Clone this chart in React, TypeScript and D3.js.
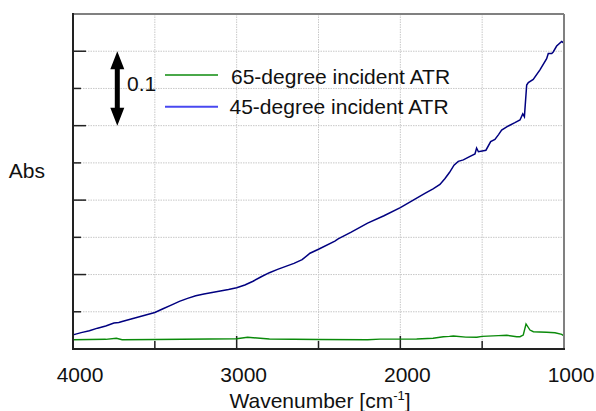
import React from 'react';
import * as d3 from 'd3';

// 45-degree incident ATR (blue)
const wn45 = [4000, 3950, 3900, 3850, 3800, 3750, 3720, 3700, 3650, 3600, 3550, 3500, 3450, 3400, 3350, 3300, 3250, 3200, 3150, 3100, 3050, 3000, 2950, 2900, 2850, 2800, 2750, 2700, 2650, 2600, 2552, 2500, 2400, 2380, 2300, 2200, 2100, 2000, 1921, 1850, 1800, 1758, 1727, 1700, 1672, 1646, 1615, 1580, 1544, 1534, 1523, 1500, 1477, 1448, 1422, 1400, 1381, 1340, 1300, 1269, 1252, 1242, 1228, 1218, 1188, 1147, 1106, 1096, 1075, 1066, 1045, 1014, 1000];
const abs45 = [0.019, 0.022, 0.0245, 0.028, 0.031, 0.035, 0.0355, 0.037, 0.04, 0.043, 0.046, 0.049, 0.054, 0.059, 0.064, 0.068, 0.0716, 0.074, 0.076, 0.078, 0.08, 0.0824, 0.086, 0.091, 0.097, 0.1025, 0.107, 0.111, 0.115, 0.12, 0.1286, 0.134, 0.145, 0.148, 0.157, 0.169, 0.179, 0.19, 0.2, 0.209, 0.215, 0.221, 0.229, 0.237, 0.247, 0.252, 0.254, 0.258, 0.262, 0.27, 0.265, 0.266, 0.267, 0.2785, 0.2816, 0.288, 0.294, 0.2996, 0.304, 0.3076, 0.3157, 0.312, 0.3546, 0.358, 0.362, 0.375, 0.39, 0.397, 0.397, 0.399, 0.407, 0.413, 0.411];

// 65-degree incident ATR (green)
const wn65 = [4000, 3800, 3735, 3700, 3500, 3000, 2933, 2800, 2500, 2200, 2124, 1900, 1800, 1737, 1700, 1676, 1600, 1533, 1500, 1400, 1350, 1289, 1269, 1249, 1232, 1208, 1187, 1150, 1106, 1055, 1014, 1000];
const abs65 = [0.0125, 0.013, 0.0144, 0.0125, 0.0128, 0.0138, 0.0157, 0.0135, 0.0128, 0.0125, 0.0132, 0.0135, 0.0145, 0.0165, 0.017, 0.0175, 0.016, 0.0157, 0.017, 0.018, 0.0184, 0.0165, 0.0165, 0.0188, 0.0336, 0.0255, 0.0232, 0.0228, 0.0224, 0.0219, 0.0197, 0.0175];

const xTickLabels = [4000, 3000, 2000, 1000];
const legendLabels = ['65-degree incident ATR', '45-degree incident ATR'];

const W = 596;
const H = 411;
const font = 'Liberation Sans, Arial, sans-serif';

export default function App() {
  const left = 73, right = 564, top = 14, bottom = 349;
  const x = d3.scaleLinear().domain([4000, 1000]).range([left, right]);
  const y = d3.scaleLinear().domain([0, 0.45]).range([bottom, top]);

  const line = d3.line<[number, number]>().x(d => x(d[0])).y(d => y(d[1]));
  const blue = line(wn45.map((w, i) => [w, abs45[i]]));
  const green = line(wn65.map((w, i) => [w, abs65[i]]));

  const vGrid = d3.range(3500, 1000, -500);
  const hGrid = d3.range(1, 9).map(i => i * 0.05);

  const ax = 117.3;
  const aTop = y(0.4), aBot = y(0.3);
  const arrow = `M${ax},${aTop} L${ax + 7},${aTop + 18} L${ax + 2.5},${aTop + 18} L${ax + 2.5},${aBot - 18} L${ax + 7},${aBot - 18} L${ax},${aBot} L${ax - 7},${aBot - 18} L${ax - 2.5},${aBot - 18} L${ax - 2.5},${aTop + 18} L${ax - 7},${aTop + 18} Z`;

  return (
    <svg width={W} height={H} style={{ position: 'absolute', left: 0, top: 0, background: '#fff' }} fontFamily={font}>
      {/* grid */}
      {vGrid.map(v => (
        <line key={'v' + v} x1={x(v)} x2={x(v)} y1={top} y2={bottom} stroke="#c8c8c8" strokeDasharray="1.5,1" />
      ))}
      {hGrid.map(v => (
        <line key={'h' + v} x1={left} x2={right} y1={y(v)} y2={y(v)} stroke="#c8c8c8" strokeDasharray="1.5,1" />
      ))}

      {/* ticks */}
      {hGrid.map((v, i) => (
        <line key={'yt' + i} x1={left} x2={left + (i % 2 === 1 ? 13 : 8)} y1={y(v)} y2={y(v)} stroke="#222" strokeWidth={1.5} />
      ))}
      {vGrid.map(v => (
        <line key={'xt' + v} x1={x(v)} x2={x(v)} y1={bottom} y2={bottom - (v % 1000 === 0 ? 13 : 8)} stroke="#222" strokeWidth={1.5} />
      ))}

      {/* data */}
      <path d={green ?? ''} fill="none" stroke="#0a8a0a" strokeWidth={1.4} />
      <path d={blue ?? ''} fill="none" stroke="#000080" strokeWidth={1.5} />

      {/* frame */}
      <line x1={left} x2={right} y1={top} y2={top} stroke="#808080" strokeWidth={2} />
      <line x1={right} x2={right} y1={top} y2={bottom} stroke="#808080" strokeWidth={2} />
      <line x1={left} x2={left} y1={top - 1} y2={bottom + 1} stroke="#222" strokeWidth={2} />
      <line x1={left - 1} x2={right + 1} y1={bottom} y2={bottom} stroke="#222" strokeWidth={2} />

      {/* x tick labels */}
      {xTickLabels.map(v => (
        <text key={'xl' + v} x={x(v) + 7} y={382} fontSize={21} textAnchor="middle" fill="#111">{v}</text>
      ))}
      <text x={320} y={408} fontSize={21} textAnchor="middle" fill="#111">
        Wavenumber [cm<tspan fontSize={13} dy={-8}>-1</tspan><tspan dy={8}>]</tspan>
      </text>
      <text x={45} y={178} fontSize={21} textAnchor="end" fill="#111">Abs</text>

      {/* scale arrow */}
      <path d={arrow} fill="#000" />
      <text x={127} y={90.5} fontSize={21} fill="#111">0.1</text>

      {/* legend */}
      <line x1={165} x2={218} y1={75} y2={75} stroke="#4aa84a" strokeWidth={2} />
      <text x={231} y={84.3} fontSize={21} fill="#111">{legendLabels[0]}</text>
      <line x1={165} x2={218} y1={106.7} y2={106.7} stroke="#4848f0" strokeWidth={2} />
      <text x={229.5} y={114.3} fontSize={21} fill="#111">{legendLabels[1]}</text>
    </svg>
  );
}
